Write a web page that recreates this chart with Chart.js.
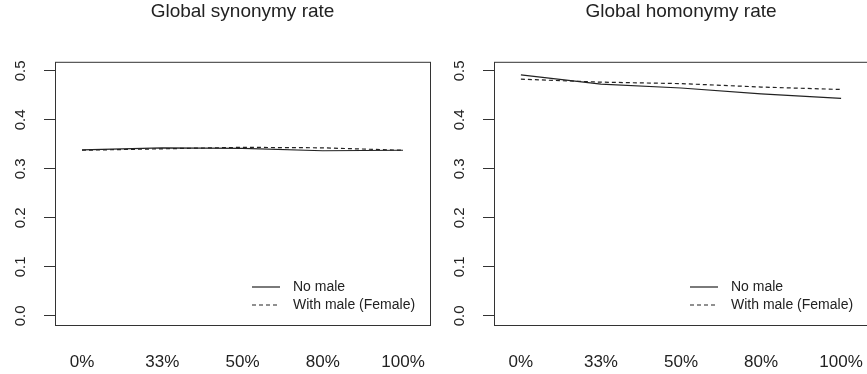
<!DOCTYPE html>
<html>
<head>
<meta charset="utf-8">
<script src="https://cdn.jsdelivr.net/npm/chart.js@4.4.1/dist/chart.umd.min.js"></script>
<style>
  body { margin: 0; background: #fff; }
  #wrap { position: relative; width: 867px; height: 374px; overflow: hidden; }
  .panel { position: absolute; top: 0; height: 374px; overflow: hidden; }
</style>
</head>
<body>
<div id="wrap">
  <div class="panel" style="left:0;width:433px"><canvas id="synChart"></canvas></div>
  <div class="panel" style="left:433px;width:434px"><canvas id="homChart"></canvas></div>
</div>
<script>
// x-axis categories
var xLabels = ['0%', '33%', '50%', '80%', '100%'];
// y-axis ticks
var yTicks = [0, 0.1, 0.2, 0.3, 0.4, 0.5];
var seriesNames = ['No male', 'With male (Female)'];

// Global synonymy rate
var synNoMale = [0.339, 0.343, 0.342, 0.337, 0.338];
var synWithMale = [0.338, 0.341, 0.344, 0.343, 0.338];
// Global homonymy rate
var homNoMale = [0.492, 0.473, 0.465, 0.453, 0.444];
var homWithMale = [0.483, 0.477, 0.474, 0.467, 0.462];

var ink = '#222';
var fontFamily = '"Liberation Sans", Arial, sans-serif';

function toPoints(vals) {
  return vals.map(function (v, i) { return { x: i + 1, y: v }; });
}

// R-style box, rotated y labels and legend inside the plot
var rStyle = {
  id: 'rStyle',
  afterDraw: function (chart) {
    var ctx = chart.ctx;
    var a = chart.chartArea;
    var ys = chart.scales.y;
    ctx.save();
    ctx.strokeStyle = '#333';
    ctx.lineWidth = 1;
    ctx.strokeRect(a.left + 0.5, a.top + 0.5, a.right - a.left, a.bottom - a.top);

    ctx.fillStyle = ink;
    ctx.font = '15px ' + fontFamily;
    ctx.textAlign = 'center';
    ctx.textBaseline = 'middle';
    yTicks.forEach(function (t) {
      var py = ys.getPixelForValue(t);
      ctx.save();
      ctx.translate(a.left - 34, py);
      ctx.rotate(-Math.PI / 2);
      ctx.fillText(t.toFixed(1), 0, 0);
      ctx.restore();
    });

    // legend
    ctx.font = '14px ' + fontFamily;
    ctx.textAlign = 'left';
    chart.data.datasets.forEach(function (ds, i) {
      var ly = a.bottom - 38 + i * 18;
      ctx.beginPath();
      ctx.setLineDash(ds.borderDash || []);
      ctx.strokeStyle = ink;
      ctx.lineWidth = 1.2;
      ctx.moveTo(a.right - 178, ly);
      ctx.lineTo(a.right - 150, ly);
      ctx.stroke();
      ctx.setLineDash([]);
      ctx.fillText(ds.label, a.right - 137, ly);
    });
    ctx.restore();
  }
};

function makePanel(id, title, noMale, withMale, w, axisW, padRight) {
  var canvas = document.getElementById(id);
  canvas.width = w;
  canvas.height = 374;
  return new Chart(canvas, {
    type: 'line',
    data: {
      datasets: [
        {
          label: seriesNames[0],
          data: toPoints(noMale),
          borderColor: ink,
          borderWidth: 1.2,
          pointRadius: 0,
          fill: false
        },
        {
          label: seriesNames[1],
          data: toPoints(withMale),
          borderColor: ink,
          borderWidth: 1.2,
          borderDash: [4, 3],
          pointRadius: 0,
          fill: false
        }
      ]
    },
    options: {
      responsive: false,
      animation: false,
      layout: { padding: { left: 0, right: padRight, top: 0, bottom: 0 } },
      plugins: {
        legend: { display: false },
        tooltip: { enabled: false },
        title: {
          display: true,
          text: title,
          fullSize: false,
          color: ink,
          font: { family: fontFamily, size: 19, weight: 'normal', lineHeight: 1.2 },
          padding: { top: 0, bottom: 39 }
        }
      },
      scales: {
        x: {
          type: 'linear',
          min: 0.664,
          max: 5.336,
          afterBuildTicks: function (scale) {
            scale.ticks = xLabels.map(function (l, i) { return { value: i + 1 }; });
          },
          afterFit: function (scale) {
            scale.height = 49;
            scale.paddingLeft = 0;
            scale.paddingRight = 0;
          },
          grid: { display: false },
          border: { display: false },
          ticks: {
            color: ink,
            padding: 19,
            maxRotation: 0,
            font: { family: fontFamily, size: 17 },
            callback: function (v) { return xLabels[v - 1]; }
          }
        },
        y: {
          min: -0.0185,
          max: 0.5185,
          afterBuildTicks: function (scale) {
            scale.ticks = yTicks.map(function (t) { return { value: t }; });
          },
          afterFit: function (scale) {
            scale.width = axisW;
            scale.paddingTop = 0;
            scale.paddingBottom = 0;
          },
          border: { display: false },
          grid: { drawOnChartArea: false, drawTicks: true, tickLength: 11, color: '#333' },
          ticks: { display: false }
        }
      }
    },
    plugins: [rStyle]
  });
}

makePanel('synChart', 'Global synonymy rate', synNoMale, synWithMale, 433, 55, 3);
makePanel('homChart', 'Global homonymy rate', homNoMale, homWithMale, 440, 61, 5);
</script>
</body>
</html>
